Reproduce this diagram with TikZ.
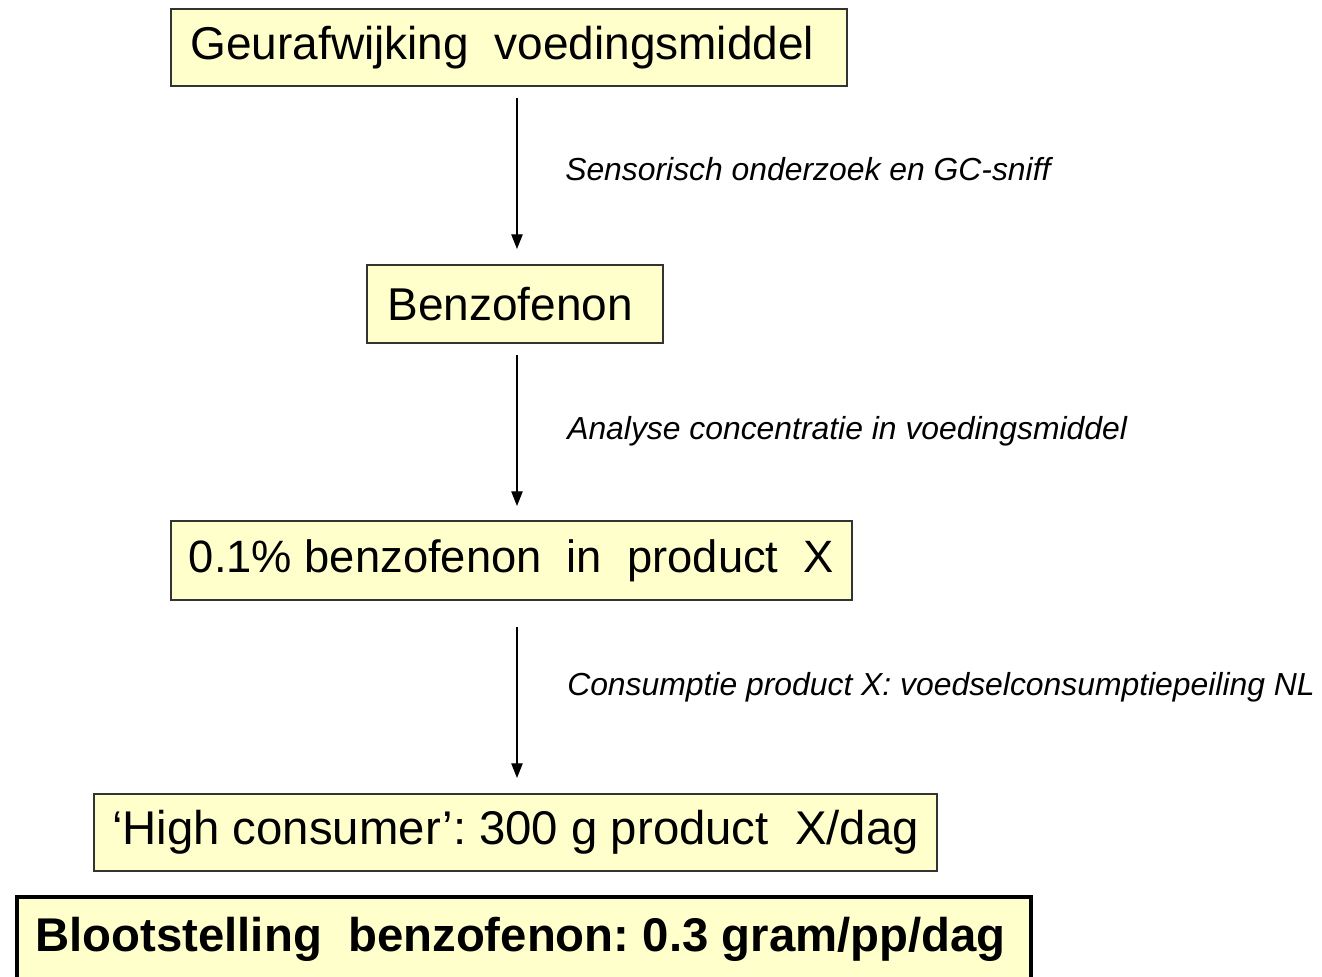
\documentclass[tikz,border=0pt]{standalone}
\usepackage{fontspec}
\setmainfont{Liberation Sans}
\usetikzlibrary{arrows.meta}
\definecolor{boxfill}{HTML}{FFFFCC}
\definecolor{boxline}{HTML}{333333}
\begin{document}
\begin{tikzpicture}[x=0.75pt,y=-0.75pt,
  box/.style={draw=boxline, line width=0.8pt, fill=boxfill, inner sep=0pt,
    font=\fontsize{34.5}{40}\selectfont},
  bigbox/.style={draw=black, line width=2.6pt, fill=boxfill},
  bigtext/.style={inner sep=0pt, font=\fontsize{35.5}{42}\selectfont\bfseries},
  lab/.style={anchor=west, inner sep=0pt, font=\fontsize{23.9}{28}\selectfont\itshape},
  flow/.style={line width=0.9pt, -{Triangle[length=11pt,width=8.5pt]}}]
\useasboundingbox (0,0) rectangle (1322,976);
\clip (0,0) rectangle (1322,976);
\fill[white] (0,0) rectangle (1322,976);

\node[box, minimum width=507pt, minimum height=57.75pt] (geur) at (509,47.5) {\raisebox{-2pt}{Geurafwijking\ \ voedingsmiddel}\kern 10pt};
\node[box, minimum width=222pt, minimum height=58.5pt] (benz) at (515,304) {Benzofenon\kern 7pt};
\node[box, minimum width=510.75pt, minimum height=59.25pt, font=\fontsize{34}{40}\selectfont] (conc) at (511.5,560.5) {0.1\%\ benzofenon\ \ in\ \ product\ \ X};
\node[box, minimum width=632.25pt, minimum height=57.75pt, font=\fontsize{35.5}{40}\selectfont] (high) at (515.5,832.5) {`High consumer':\ 300 g product\ \ X/dag};

\path[bigbox] (17,897) rectangle (1031,1010);
\node[bigtext] (bloot) at (520.5,939) {Blootstelling\ \ benzofenon:\ 0.3 gram/pp/dag};

\coordinate (s1) at (517,98);  \coordinate (e1) at (517,249);
\coordinate (s2) at (517,355); \coordinate (e2) at (517,506);
\coordinate (s3) at (517,627); \coordinate (e3) at (517,778);
\draw[flow] (s1) -- (e1);
\draw[flow] (s2) -- (e2);
\draw[flow] (s3) -- (e3);

\node[lab] (l1) at (565,169) {Sensorisch onderzoek en GC-sniff};
\node[lab] (l2) at (567,431) {Analyse concentratie in voedingsmiddel};
\node[lab] (l3) at (567,687) {Consumptie product X: voedselconsumptiepeiling NL};
\end{tikzpicture}
\end{document}
